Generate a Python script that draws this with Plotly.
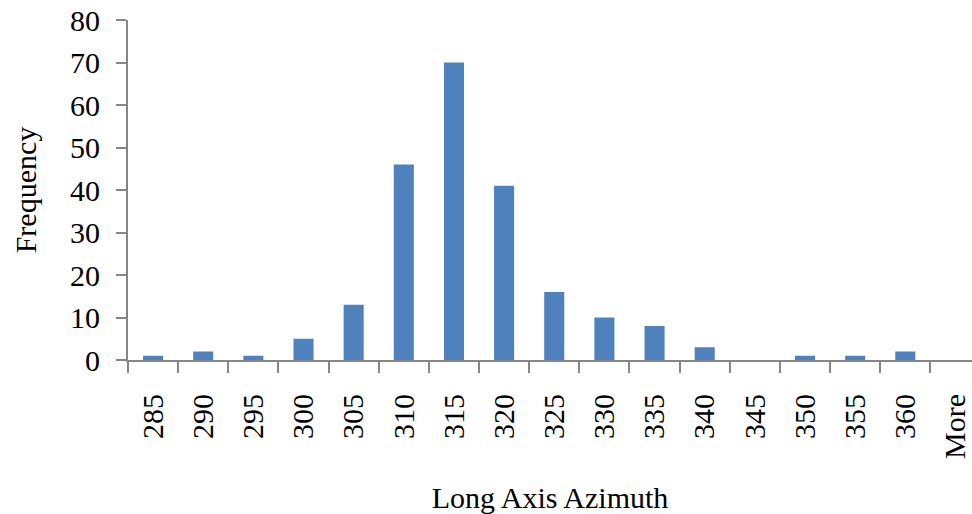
import plotly.graph_objects as go

categories = ["285", "290", "295", "300", "305", "310", "315", "320", "325",
              "330", "335", "340", "345", "350", "355", "360", "More"]
frequency = [1, 2, 1, 5, 13, 46, 70, 41, 16, 10, 8, 3, 0, 1, 1, 2, 0]
y_ticks = [0, 10, 20, 30, 40, 50, 60, 70, 80]

FONT = "Liberation Serif, Times New Roman, serif"
AXIS_COLOR = "#868686"

fig = go.Figure(go.Bar(
    x=categories, y=frequency,
    marker=dict(color="#4F81BD", line=dict(width=0)),
    width=0.4,
))

fig.update_layout(
    width=972, height=514,
    margin=dict(l=128, r=0, t=20, b=154),
    paper_bgcolor="white", plot_bgcolor="white",
    font=dict(family=FONT, size=30, color="black"),
    showlegend=False,
)
fig.update_xaxes(
    type="category",
    range=[-0.5, 16.33],
    automargin=False,
    showline=True, linecolor=AXIS_COLOR, linewidth=2,
    ticks="outside", tickson="boundaries", ticklen=11, tickwidth=2, tickcolor=AXIS_COLOR,
    tickangle=-90, tickfont=dict(family=FONT, size=30), ticklabelstandoff=20,
    ticklabeloverflow="allow",
    showgrid=False,
    title=dict(text="Long Axis Azimuth", font=dict(family=FONT, size=30), standoff=32),
)
fig.update_yaxes(
    range=[0, 80], tickvals=y_ticks,
    automargin=False,
    showline=True, linecolor=AXIS_COLOR, linewidth=2,
    ticks="outside", ticklen=10, tickwidth=2, tickcolor=AXIS_COLOR,
    tickfont=dict(family=FONT, size=30), ticklabelstandoff=10,
    ticklabeloverflow="allow",
    showgrid=False, zeroline=False,
    title=dict(text="Frequency", font=dict(family=FONT, size=30), standoff=25),
)

fig.write_html(
    "out.html",
    config={"displayModeBar": False},
    post_script="document.body.style.margin='0';document.body.style.overflow='hidden';",
)
